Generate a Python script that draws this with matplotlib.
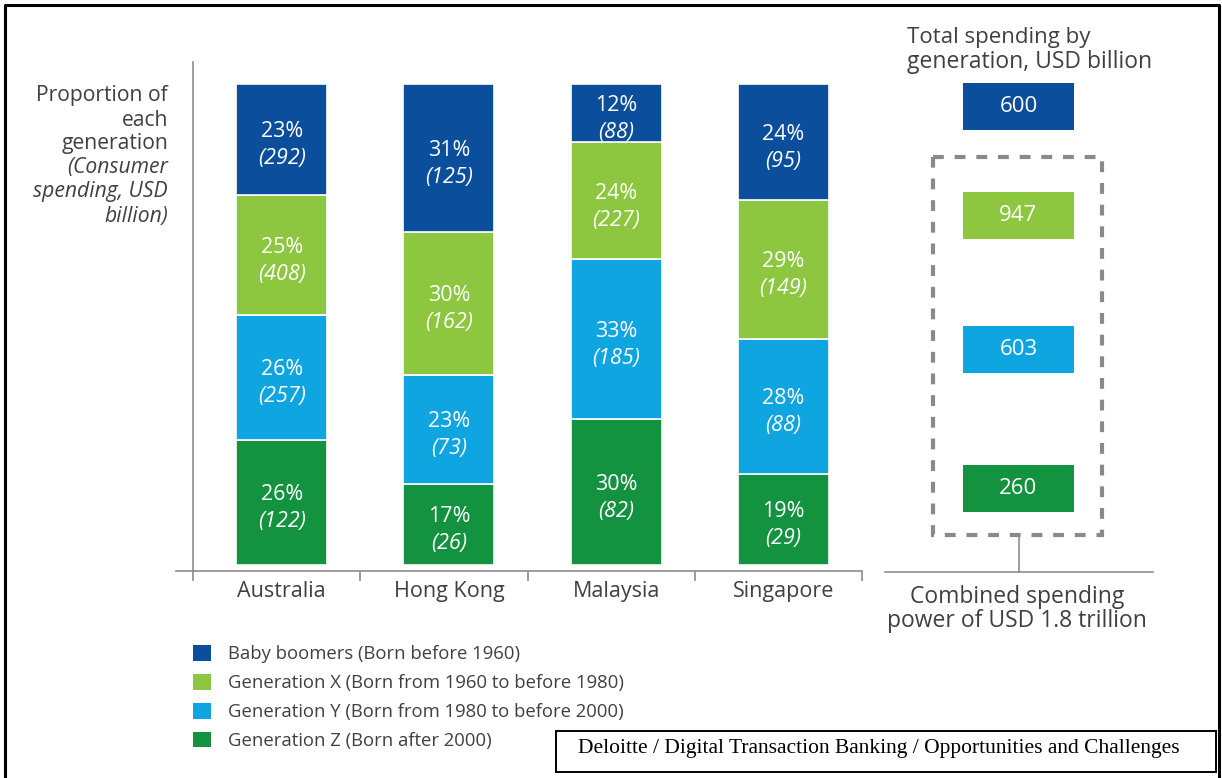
import numpy as np
import matplotlib.pyplot as plt
from matplotlib.patches import Patch, Rectangle

W, H = 1222, 778

countries = ["Australia", "Hong Kong", "Malaysia", "Singapore"]
generations = [
    "Baby boomers (Born before 1960)",
    "Generation X (Born from 1960 to before 1980)",
    "Generation Y (Born from 1980 to before 2000)",
    "Generation Z (Born after 2000)",
]
# share of each generation (%), stacked from the bottom: Z, Y, X, boomers
share_boomers = [23, 31, 12, 24]
share_x = [25, 30, 24, 29]
share_y = [26, 23, 33, 28]
share_z = [26, 17, 30, 19]
# consumer spending, USD billion
spend_boomers = [292, 125, 88, 95]
spend_x = [408, 162, 227, 149]
spend_y = [257, 73, 185, 88]
spend_z = [122, 26, 82, 29]
# total spending by generation (boomers, X, Y, Z)
totals = [600, 947, 603, 260]

colors = ["#0b4f9c", "#8dc63f", "#0ea5e1", "#13923f"]
grey = "#404040"

plt.rcParams["font.family"] = ["Open Sans", "DejaVu Sans"]

fig = plt.figure(figsize=(W / 100, H / 100), dpi=100)


def fx(x):
    return x / W


def fy(y):
    return 1 - y / H


# main stacked bar chart
ax = fig.add_axes([fx(193), fy(571), fx(862) - fx(193), fy(62) - fy(571)])
ax.set_xlim(-0.5, 3.5)
ax.set_ylim(-1.25, 104.6)

pos = np.arange(len(countries)) + 0.03
stack = [share_z, share_y, share_x, share_boomers]
spends = [spend_z, spend_y, spend_x, spend_boomers]
stack_cols = [colors[3], colors[2], colors[1], colors[0]]
raw = np.array(stack, dtype=float)
norm = raw / raw.sum(axis=0) * 100
bottom = np.zeros(len(countries))
for k in range(4):
    ax.bar(pos, norm[k], 0.545, bottom=bottom, color=stack_cols[k],
           edgecolor="white", linewidth=1.2)
    for i in range(len(countries)):
        yc = bottom[i] + norm[k][i] / 2
        ax.annotate(f"{stack[k][i]}%", (pos[i], yc), xytext=(0, 5.5),
                    textcoords="offset points", ha="center", va="center",
                    color="white", fontsize=15.5)
        ax.annotate(f"({spends[k][i]})", (pos[i], yc), xytext=(0, -14),
                    textcoords="offset points", ha="center", va="center",
                    color="white", fontsize=15.5, style="italic")
    bottom += norm[k]

for s in ["top", "right"]:
    ax.spines[s].set_visible(False)
ax.spines["left"].set_color("#8c8c8c")
ax.spines["bottom"].set_color("#8c8c8c")
ax.spines["left"].set_linewidth(1.2)
ax.spines["bottom"].set_linewidth(1.2)
ax.plot([-0.6, -0.5], [-1.25, -1.25], color="#8c8c8c", lw=1.2, clip_on=False)
ax.set_yticks([])
ax.set_xticks(np.arange(-0.5, 4, 1))
ax.set_xticklabels([])
ax.tick_params(axis="x", direction="out", length=7, width=1.2, color="#8c8c8c")
for i, c in enumerate(countries):
    ax.annotate(c, (pos[i], 0), xycoords=("data", "axes fraction"), xytext=(0, -15),
                textcoords="offset points", ha="center", va="center",
                fontsize=15.5, color=grey)

# axis caption on the left
cap_lines = [("Proportion of", "normal"), ("each", "normal"), ("generation", "normal"),
             ("(Consumer", "italic"), ("spending, USD", "italic"), ("billion)", "italic")]
for j, (t, st) in enumerate(cap_lines):
    fig.text(fx(168), fy(96 + j * 24), t, ha="right", va="center",
             fontsize=15.2, color=grey, style=st)

# legend
handles = [Patch(facecolor=c, edgecolor="none") for c in colors]
fig.legend(handles, generations, loc="upper left",
           bbox_to_anchor=(fx(193), fy(645)), frameon=False, fontsize=13.3,
           handlelength=0.95, handleheight=0.95, handletextpad=0.95,
           labelspacing=0.57, labelcolor=grey, borderaxespad=0, borderpad=0)

# right-hand panel and frame, drawn in pixel space
ov = fig.add_axes([0, 0, 1, 1])
ov.set_xlim(0, W)
ov.set_ylim(H, 0)
ov.axis("off")

ov.text(907, 37, "Total spending by", fontsize=16, color=grey, va="center")
ov.text(907, 62, "generation, USD billion", fontsize=16.5, color=grey, va="center")

box_mid = [106.5, 215.5, 349, 488]
for val, c, ym in zip(totals, colors, box_mid):
    ov.add_patch(Rectangle((963, ym - 23.5), 111, 47, facecolor=c, edgecolor="none"))
    ov.text(1018.5, ym, str(val), ha="center", va="center", color="white", fontsize=16)

ov.add_patch(Rectangle((933, 157), 169, 378, facecolor="none", edgecolor="#8a8a8a",
                       lw=3, linestyle=(0, (2.6, 2.6))))
ov.plot([1019, 1019], [537, 572], color="#8c8c8c", lw=1.2)
ov.plot([885, 1153], [572, 572], color="#8c8c8c", lw=1.2)
ov.text(1017, 597, "Combined spending", ha="center", va="center", fontsize=16.5, color=grey)
ov.text(1017, 621, "power of USD 1.8 trillion", ha="center", va="center", fontsize=16.5,
        color=grey)

# outer frame and source box
ov.plot([5, 5, 1219, 1219], [H + 5, 5, 5, H + 5], color="black", lw=2.2, clip_on=False)
ov.add_patch(Rectangle((556, 731), 660, 41, facecolor="white", edgecolor="black", lw=1.4))
ov.text(578, 749, "Deloitte / Digital Transaction Banking / Opportunities and Challenges",
        va="center", fontsize=15.5, color="black", family="Liberation Serif")

fig.savefig("out.png", dpi=100)
